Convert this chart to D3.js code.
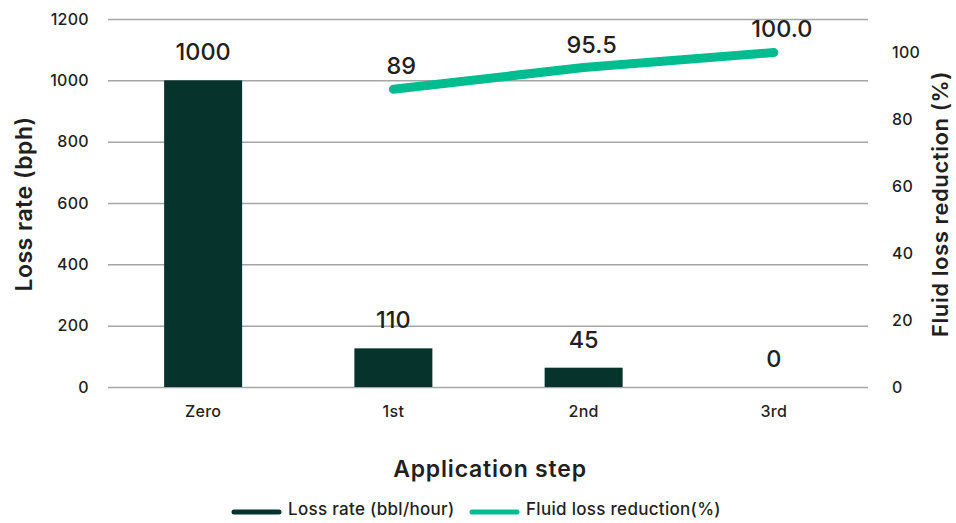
<!DOCTYPE html>
<html>
<head>
<meta charset="utf-8">
<script src="https://cdn.jsdelivr.net/npm/d3@7"></script>
<style>
  html, body { margin: 0; padding: 0; background: #ffffff; }
  svg { display: block; }
  text { font-family: Inter, "Open Sans", sans-serif; fill: #231f20; }
</style>
</head>
<body>
<svg id="chart" width="956" height="523"></svg>
<script>
// ---- data ----
const steps = ["Zero", "1st", "2nd", "3rd"];
const lossRate = [1000, 126, 63, 0];            // bar heights as drawn
const lossRateLabels = ["1000", "110", "45", "0"];
const reductionSteps = ["1st", "2nd", "3rd"];
const reduction = [89, 95.5, 100.0];
const reductionLabels = ["89", "95.5", "100.0"];
const leftTicks = [0, 200, 400, 600, 800, 1000, 1200];
const rightTicks = [0, 20, 40, 60, 80, 100];
const seriesNames = ["Loss rate (bbl/hour)", "Fluid loss reduction(%)"];

// ---- layout ----
const plot = { left: 108, right: 869, top: 19, bottom: 387 };
const barColor = "#07332d";
const lineColor = "#00bd90";
const gridColor = "#a6a6a6";

const svg = d3.select("#chart");

const x = d3.scaleBand().domain(steps).range([plot.left, plot.right]).padding(0);
const yL = d3.scaleLinear().domain([0, 1200]).range([plot.bottom, plot.top]);
const yR = d3.scaleLinear().domain([0, 110]).range([plot.bottom, plot.top]);

// gridlines via axis
const grid = svg.append("g")
  .attr("transform", `translate(${plot.left},0)`)
  .call(d3.axisRight(yL).tickValues(leftTicks).tickSize(plot.right - plot.left - 1).tickFormat(""));
grid.select(".domain").remove();
grid.selectAll(".tick line").attr("stroke", gridColor).attr("stroke-width", 1.5);

// left axis labels
const axL = svg.append("g")
  .attr("transform", `translate(${plot.left},0)`)
  .call(d3.axisLeft(yL).tickValues(leftTicks).tickSize(0).tickPadding(19).tickFormat(d3.format("d")));
axL.select(".domain").remove();
axL.selectAll("text").attr("font-size", 16).attr("font-weight", 500).attr("letter-spacing", 0.3).style("fill", "#231f20");

// right axis labels
const axR = svg.append("g")
  .attr("transform", `translate(${plot.right},0)`)
  .call(d3.axisRight(yR).tickValues(rightTicks).tickSize(0).tickPadding(23).tickFormat(d3.format("d")));
axR.select(".domain").remove();
axR.selectAll("text").attr("font-size", 16).attr("font-weight", 500).attr("letter-spacing", 0.3).style("fill", "#231f20");

// x axis labels
const axX = svg.append("g")
  .attr("transform", `translate(0,${plot.bottom})`)
  .call(d3.axisBottom(x).tickSize(0).tickPadding(19));
axX.select(".domain").remove();
axX.selectAll("text").attr("font-size", 16).attr("font-weight", 500).attr("letter-spacing", 0.3).style("fill", "#231f20");

// bars
const barW = x.bandwidth() * 0.41;
const barData = steps.map((s, i) => ({ s, v: lossRate[i], lab: lossRateLabels[i] }));
svg.append("g").selectAll("rect")
  .data(barData)
  .join("rect")
  .attr("x", d => x(d.s) + x.bandwidth() / 2 - barW / 2)
  .attr("width", barW)
  .attr("y", d => yL(d.v))
  .attr("height", d => yL(0) - yL(d.v))
  .attr("fill", barColor);

// bar labels
svg.append("g").selectAll("text")
  .data(barData)
  .join("text")
  .attr("x", d => x(d.s) + x.bandwidth() / 2)
  .attr("y", d => yL(d.v) - 20)
  .attr("text-anchor", "middle")
  .attr("font-size", 23.5)
  .attr("font-weight", 500)
  .text(d => d.lab);

// line
const lineData = reductionSteps.map((s, i) => ({ s, v: reduction[i], lab: reductionLabels[i] }));
const line = d3.line().x(d => x(d.s) + x.bandwidth() / 2).y(d => yR(d.v));
svg.append("path")
  .datum(lineData)
  .attr("d", line)
  .attr("fill", "none")
  .attr("stroke", lineColor)
  .attr("stroke-width", 9)
  .attr("stroke-linecap", "round")
  .attr("stroke-linejoin", "round");

svg.append("g").selectAll("text")
  .data(lineData)
  .join("text")
  .attr("x", d => x(d.s) + x.bandwidth() / 2 + 8)
  .attr("y", d => yR(d.v) - 15)
  .attr("text-anchor", "middle")
  .attr("font-size", 23.5)
  .attr("font-weight", 500)
  .text(d => d.lab);

// axis titles
svg.append("text")
  .attr("transform", `translate(32,204) rotate(-90)`)
  .attr("text-anchor", "middle")
  .attr("font-size", 23)
  .attr("font-weight", 600)
  .attr("letter-spacing", 0.5)
  .text("Loss rate (bph)");

svg.append("text")
  .attr("transform", `translate(948,204) rotate(-90)`)
  .attr("text-anchor", "middle")
  .attr("font-size", 22)
  .attr("font-weight", 600)
  .attr("letter-spacing", 0.6)
  .text("Fluid loss reduction (%)");

svg.append("text")
  .attr("x", 490)
  .attr("y", 476.5)
  .attr("text-anchor", "middle")
  .attr("font-size", 23)
  .attr("font-weight", 600)
  .attr("letter-spacing", 0.8)
  .text("Application step");

// legend
const legend = svg.append("g");
const legendItems = [
  { name: seriesNames[0], color: barColor, x0: 234 },
  { name: seriesNames[1], color: lineColor, x0: 472 }
];
legendItems.forEach(it => {
  legend.append("line")
    .attr("x1", it.x0).attr("x2", it.x0 + 45)
    .attr("y1", 512).attr("y2", 512)
    .attr("stroke", it.color)
    .attr("stroke-width", 5)
    .attr("stroke-linecap", "round");
  legend.append("text")
    .attr("x", it.x0 + 54)
    .attr("y", 514.5)
    .attr("font-size", 17)
    .attr("font-weight", 500)
    .attr("letter-spacing", 0.3)
    .text(it.name);
});
</script>
</body>
</html>
